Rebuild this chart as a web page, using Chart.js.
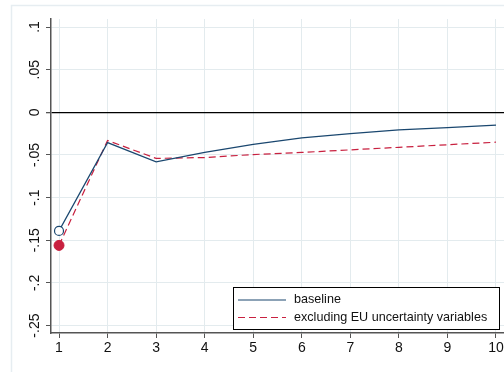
<!DOCTYPE html>
<html>
<head>
<meta charset="utf-8">
<script src="https://cdn.jsdelivr.net/npm/chart.js@4.4.1/dist/chart.umd.min.js"></script>
<style>
  html, body { margin: 0; padding: 0; background: #fff; overflow: hidden; }
  #wrap { width: 504px; height: 372px; }
</style>
</head>
<body>
<div id="wrap"><canvas id="irfChart" width="504" height="372"></canvas></div>
<script>
// horizons and responses
const horizons = [1, 2, 3, 4, 5, 6, 7, 8, 9, 10];
const baseline = [-0.139, -0.0355, -0.058, -0.047, -0.0375, -0.030, -0.025, -0.0205, -0.018, -0.015];
const excludingEU = [-0.156, -0.033, -0.054, -0.053, -0.0495, -0.047, -0.044, -0.041, -0.038, -0.035];
const seriesLabels = ['baseline', 'excluding EU uncertainty variables'];

const xTicks = [1, 2, 3, 4, 5, 6, 7, 8, 9, 10];
const yTicks = [-0.25, -0.2, -0.15, -0.1, -0.05, 0, 0.05, 0.1];
const yTickLabels = ['-.25', '-.2', '-.15', '-.1', '-.05', '0', '.05', '.1'];

const navy = '#1a476f';
const red = '#c8203f';
const gridColor = '#e3ebee';
const axisColor = '#555';
const fontFamily = '"Liberation Sans", Arial, sans-serif';

const toPoints = (ys) => horizons.map((x, i) => ({ x: x, y: ys[i] }));

const stataDecor = {
    id: 'stataDecor',
    beforeDraw(chart) {
        const ctx = chart.ctx;
        ctx.save();
        ctx.fillStyle = '#fff';
        ctx.fillRect(0, 0, chart.width, chart.height);
        ctx.strokeStyle = '#e6edf1';
        ctx.lineWidth = 1.5;
        ctx.strokeRect(11.5, 5.5, chart.width + 20, chart.height + 20);
        ctx.restore();
    },
    afterDraw(chart) {
        const ctx = chart.ctx;
        const yScale = chart.scales.y;
        const area = chart.chartArea;

        // rotated y tick labels
        ctx.save();
        ctx.fillStyle = '#111';
        ctx.font = '14px ' + fontFamily;
        ctx.textAlign = 'center';
        ctx.textBaseline = 'middle';
        yTicks.forEach((v, i) => {
            const py = yScale.getPixelForValue(v);
            ctx.save();
            ctx.translate(35, py);
            ctx.rotate(-Math.PI / 2);
            ctx.fillText(yTickLabels[i], 0, 0);
            ctx.restore();
        });
        ctx.restore();

        // legend box inside plot, bottom right
        const boxW = 266, boxH = 42;
        const bx = area.right - 5 - boxW;
        const by = area.bottom - 4 - boxH;
        ctx.save();
        ctx.fillStyle = '#fff';
        ctx.fillRect(bx, by, boxW, boxH);
        ctx.strokeStyle = '#000';
        ctx.lineWidth = 1;
        ctx.strokeRect(bx + 0.5, by + 0.5, boxW, boxH);

        const rows = [
            { color: navy, dash: [] },
            { color: red, dash: [7, 4] }
        ];
        ctx.font = '12.6px ' + fontFamily;
        ctx.textBaseline = 'middle';
        ctx.textAlign = 'left';
        rows.forEach((r, i) => {
            const ry = by + 13 + i * 17.5;
            ctx.strokeStyle = r.color;
            ctx.lineWidth = 1.2;
            ctx.setLineDash(r.dash);
            ctx.beginPath();
            ctx.moveTo(bx + 5, ry);
            ctx.lineTo(bx + 53, ry);
            ctx.stroke();
            ctx.setLineDash([]);
            ctx.fillStyle = '#111';
            ctx.fillText(seriesLabels[i], bx + 61, ry);
        });
        ctx.restore();
    }
};

new Chart(document.getElementById('irfChart'), {
    type: 'line',
    data: {
        datasets: [{
            label: seriesLabels[0],
            data: toPoints(baseline),
            borderColor: navy,
            borderWidth: 1.2,
            tension: 0,
            fill: false,
            pointRadius: (c) => c.dataIndex === 0 ? 4.5 : 0,
            pointBackgroundColor: '#fff',
            pointBorderColor: navy,
            pointBorderWidth: 1.2,
        }, {
            label: seriesLabels[1],
            data: toPoints(excludingEU),
            borderColor: red,
            borderWidth: 1.2,
            borderDash: [7, 4],
            tension: 0,
            fill: false,
            pointRadius: (c) => c.dataIndex === 0 ? 5 : 0,
            pointBackgroundColor: red,
            pointBorderColor: red,
            pointBorderWidth: 1,
        }]
    },
    options: {
        responsive: false,
        animation: false,
        layout: { autoPadding: false, padding: { top: 19, right: 0, left: 0, bottom: 0 } },
        plugins: {
            legend: { display: false },
            tooltip: { enabled: false }
        },
        scales: {
            x: {
                type: 'linear',
                min: 0.835,
                max: 10.165,
                afterBuildTicks: (s) => { s.ticks = xTicks.map(v => ({ value: v })); },
                afterFit: (s) => { s.height = 39; s.paddingLeft = 0; s.paddingRight = 0; },
                grid: { color: gridColor, tickColor: axisColor, tickLength: 5, lineWidth: 1 },
                border: { color: axisColor, width: 1.5 },
                ticks: {
                    font: { family: fontFamily, size: 14 },
                    color: '#111',
                    padding: 2,
                    maxRotation: 0,
                    autoSkip: false
                }
            },
            y: {
                type: 'linear',
                min: -0.2587,
                max: 0.1094,
                afterBuildTicks: (s) => { s.ticks = yTicks.map(v => ({ value: v })); },
                afterFit: (s) => { s.width = 51; s.paddingTop = 0; s.paddingBottom = 0; },
                grid: {
                    color: (c) => c.tick && Math.abs(c.tick.value) < 1e-9 ? '#000' : gridColor,
                    lineWidth: (c) => c.tick && Math.abs(c.tick.value) < 1e-9 ? 1.3 : 1,
                    tickColor: axisColor,
                    tickLength: 5
                },
                border: { color: axisColor, width: 1.5 },
                ticks: { display: false }
            }
        }
    },
    plugins: [stataDecor]
});
</script>
</body>
</html>
